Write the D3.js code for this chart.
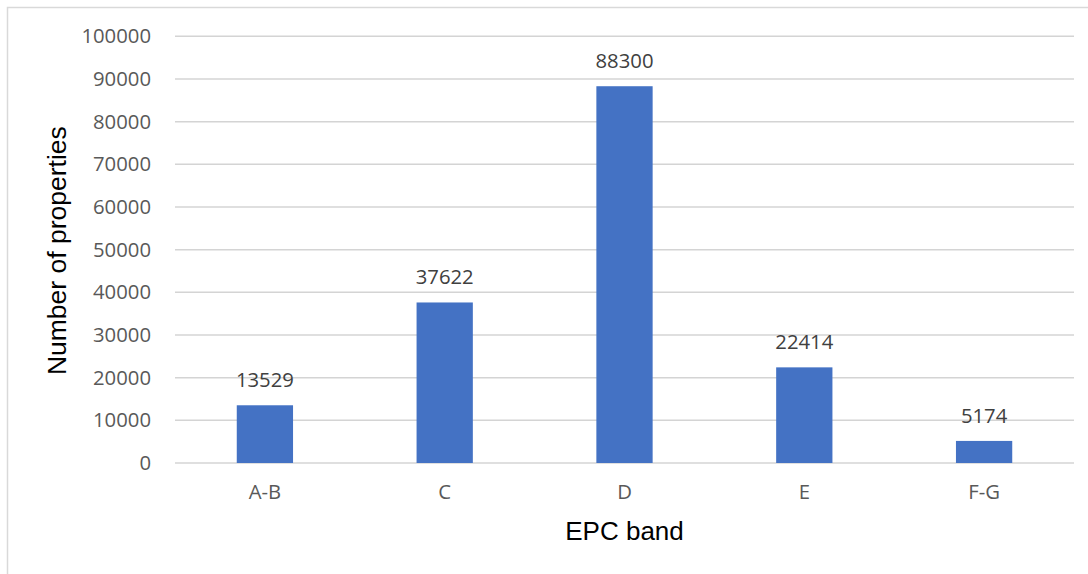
<!DOCTYPE html>
<html>
<head>
<meta charset="utf-8">
<script src="https://cdn.jsdelivr.net/npm/d3@7"></script>
<style>
html, body { margin: 0; padding: 0; background: #fff; }
svg { display: block; }
</style>
</head>
<body>
<svg id="chart" width="1088" height="574"></svg>
<script>
const categories = ["A-B", "C", "D", "E", "F-G"];
const values = [13529, 37622, 88300, 22414, 5174];
const yTicks = [0, 10000, 20000, 30000, 40000, 50000, 60000, 70000, 80000, 90000, 100000];
const xTitle = "EPC band";
const yTitle = "Number of properties";

const svg = d3.select("#chart");
const m = { left: 175, right: 1074, top: 36.3, bottom: 463 };

// chart border
svg.append("rect").attr("x", 7.5).attr("y", 7.5).attr("width", 1100).attr("height", 600)
  .attr("fill", "#fff").attr("stroke", "#d9d9d9").attr("stroke-width", 1.5);

const x = d3.scaleBand().domain(categories).range([m.left, m.right]).paddingInner(0.687).paddingOuter(0.3435);
const y = d3.scaleLinear().domain([0, 100000]).range([m.bottom, m.top]);

// gridlines
svg.append("g").selectAll("line").data(yTicks).join("line")
  .attr("x1", m.left).attr("x2", m.right)
  .attr("y1", d => y(d)).attr("y2", d => y(d))
  .attr("stroke", "#d4d4d4").attr("stroke-width", 1.5);

// y axis labels
const yAxis = d3.axisLeft(y).tickValues(yTicks).tickSize(0).tickPadding(24).tickFormat(d3.format("d"));
const gy = svg.append("g").attr("transform", `translate(${m.left},0)`).call(yAxis);
gy.select(".domain").remove();
gy.selectAll("text").attr("font-family", "'Open Sans', sans-serif").attr("font-size", 20.3).attr("fill", "#595959");

// x axis labels
const xAxis = d3.axisBottom(x).tickSize(0).tickPadding(22);
const gx = svg.append("g").attr("transform", `translate(0,${m.bottom})`).call(xAxis);
gx.select(".domain").remove();
gx.selectAll("text").attr("font-family", "'Open Sans', sans-serif").attr("font-size", 20.3).attr("fill", "#595959");

// bars
svg.append("g").selectAll("rect").data(values).join("rect")
  .attr("x", (d, i) => x(categories[i]))
  .attr("width", x.bandwidth())
  .attr("y", d => y(d))
  .attr("height", d => y(0) - y(d))
  .attr("fill", "#4472c4");

// data labels
svg.append("g").selectAll("text").data(values).join("text")
  .attr("x", (d, i) => x(categories[i]) + x.bandwidth() / 2)
  .attr("y", d => y(d) - 18)
  .attr("text-anchor", "middle")
  .attr("font-family", "'Open Sans', sans-serif").attr("font-size", 20.3).attr("fill", "#404040")
  .text(d => d);

// axis titles
svg.append("text").attr("x", (m.left + m.right) / 2).attr("y", 540)
  .attr("text-anchor", "middle").attr("font-family", "'Liberation Sans', Arial, sans-serif")
  .attr("font-size", 26).attr("fill", "#000").text(xTitle);

svg.append("text").attr("transform", `translate(66,${(m.top + m.bottom) / 2 + 1}) rotate(-90)`)
  .attr("text-anchor", "middle").attr("font-family", "'Liberation Sans', Arial, sans-serif")
  .attr("font-size", 26.5).attr("fill", "#000").text(yTitle);
</script>
</body>
</html>
